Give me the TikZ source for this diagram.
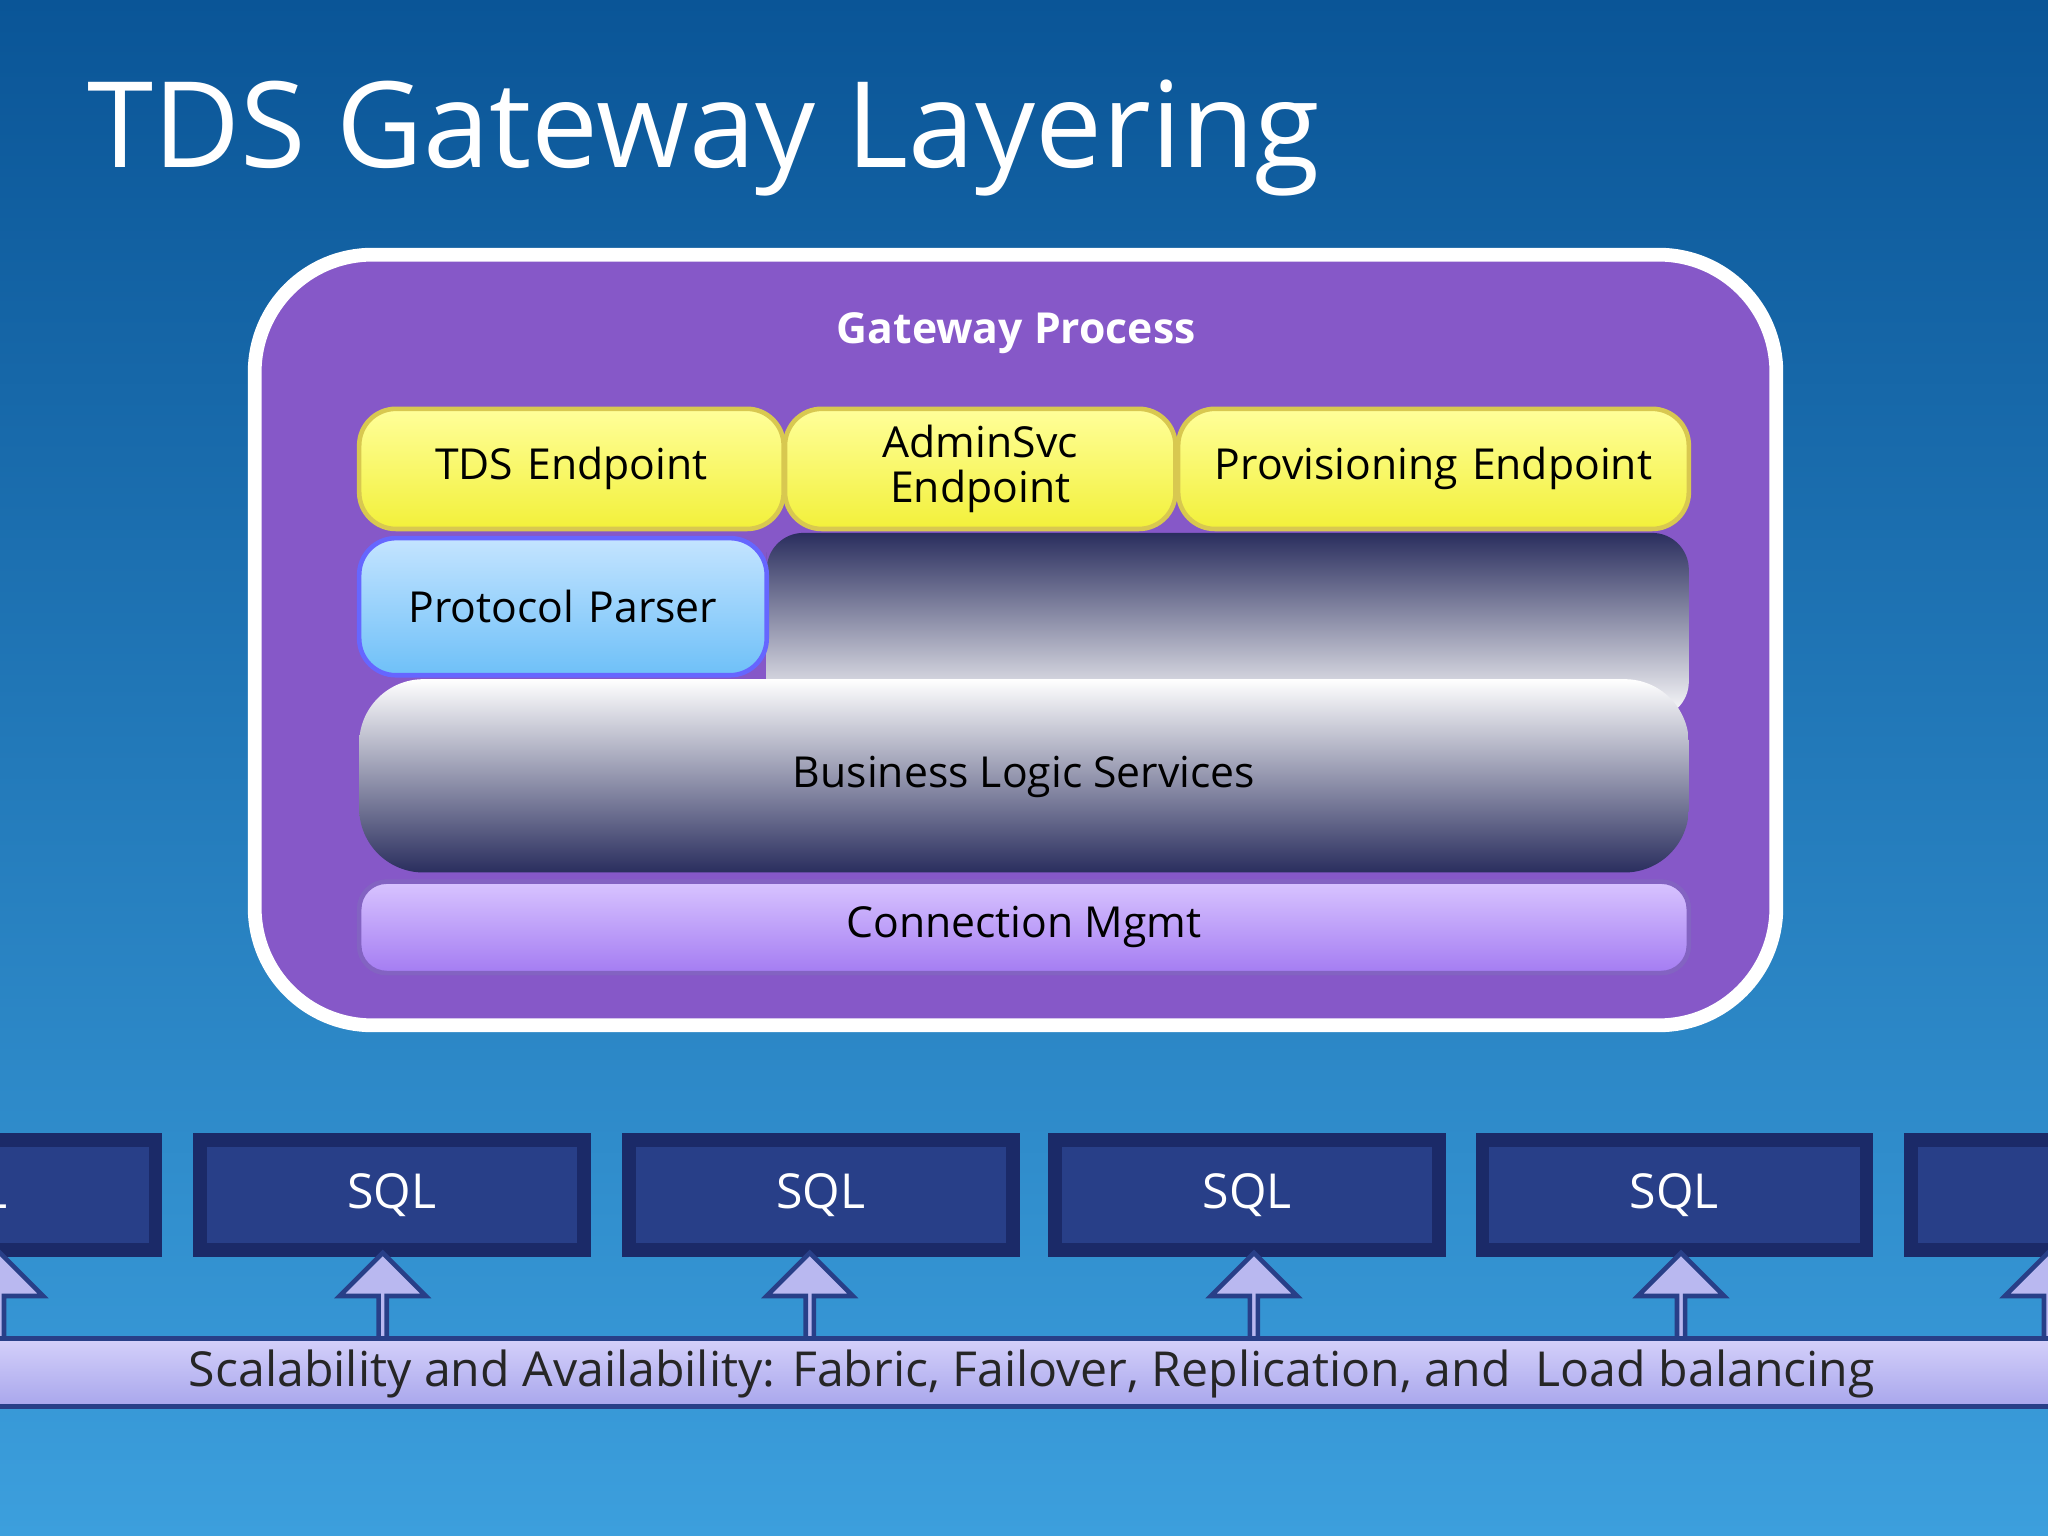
\documentclass[tikz,border=0pt]{standalone}
\usepackage{fontspec}
\setmainfont{Open Sans}
\usetikzlibrary{shapes.arrows}
\definecolor{bgtop}{HTML}{0A5597}
\definecolor{bgbot}{HTML}{3C9FDD}
\definecolor{purp}{HTML}{8658C8}
\definecolor{navy}{HTML}{283F88}
\definecolor{navyb}{HTML}{1B2A68}
\definecolor{dark}{HTML}{2A2E5E}
\definecolor{yt}{HTML}{FFFF9A}
\definecolor{yb}{HTML}{F2F03A}
\definecolor{yd}{HTML}{D8C850}
\definecolor{lt}{HTML}{D8C4FF}
\definecolor{lb}{HTML}{A47CF2}
\definecolor{bt}{HTML}{C4E4FF}
\definecolor{bb}{HTML}{6EC0F8}
\definecolor{bart}{HTML}{D4D0FA}
\definecolor{barb}{HTML}{A8A6EC}
\tikzset{
  yel/.style={draw=yd,line width=1pt,rounded corners=8pt,top color=yt,bottom color=yb,font=\fontsize{9.3}{11}\selectfont,align=center,inner sep=1pt},
  sql/.style={draw=navyb,line width=3pt,fill=navy,text=white,font=\fontsize{10.5}{12}\selectfont},
  up/.style={single arrow,shape border rotate=90,draw=navy,line width=1pt,fill=barb!80!white,minimum width=0.66cm,single arrow head extend=0.17cm,single arrow tip angle=90,minimum height=0.66cm,inner sep=0pt}
}
\begin{document}
\begin{tikzpicture}[x=1cm,y=1cm]
\shade[top color=bgtop,bottom color=bgbot] (0,0) rectangle (15.68,-11.76);
\useasboundingbox (0,0) rectangle (15.68,-11.76);
\node[anchor=base west,text=white,font=\fontsize{26}{30}\selectfont,inner sep=0] (title) at (0.66,-1.28) {TDS Gateway Layering};
% outer
\draw[white,line width=3pt,fill=purp,rounded corners=0.9cm] (1.95,-1.95) rectangle (13.6,-7.85);
\node[text=white,font=\bfseries\fontsize{9.3}{11}\selectfont] (gp) at (7.78,-2.55) {Gateway Process};
% yellow
\node[yel,minimum width=3.25cm,minimum height=0.92cm,text width=3.1cm] (tds) at (4.375,-3.59) {TDS Endpoint};
\node[yel,minimum width=2.99cm,minimum height=0.92cm,text width=2.9cm] (adm) at (7.505,-3.59) {AdminSvc\\[-1pt]Endpoint};
\node[yel,minimum width=3.91cm,minimum height=0.92cm,text width=3.8cm] (prov) at (10.975,-3.59) {Provisioning Endpoint};
% gradient band
\shade[top color=dark,bottom color=white] (5.87,-5.5) -- (5.87,-4.23) [rounded corners=8pt] -- (5.87,-4.08) -- (12.93,-4.08) -- (12.93,-5.5) -- cycle;
\shade[top color=white,bottom color=dark,rounded corners=14pt] (2.75,-5.2) rectangle (12.93,-6.68);
\node[font=\fontsize{9.3}{11}\selectfont] (bls) at (7.84,-5.95) {Business Logic Services};
\node[draw=blue!60,line width=1pt,rounded corners=8pt,top color=bt,bottom color=bb,minimum width=3.12cm,minimum height=1.05cm,text width=3cm,align=center,inner sep=1pt,font=\fontsize{9.3}{11}\selectfont] (pp) at (4.31,-4.645) {Protocol Parser};
\node[draw=lb!80!black,line width=1pt,rounded corners=6pt,top color=lt,bottom color=lb,minimum width=10.18cm,minimum height=0.7cm,font=\fontsize{9.3}{11}\selectfont] (cm) at (7.84,-7.1) {Connection Mgmt};
% SQL
\node[sql,minimum width=2.94cm,minimum height=0.84cm] (s0) at (-0.28,-9.15) {SQL};
\node[sql,minimum width=2.94cm,minimum height=0.84cm] (s1) at (3.0,-9.15) {SQL};
\node[sql,minimum width=2.94cm,minimum height=0.84cm] (s2) at (6.285,-9.15) {SQL};
\node[sql,minimum width=2.94cm,minimum height=0.84cm] (s3) at (9.55,-9.15) {SQL};
\node[sql,minimum width=2.94cm,minimum height=0.84cm] (s4) at (12.82,-9.15) {SQL};
\node[sql,minimum width=2.94cm,minimum height=0.84cm] (s5) at (16.1,-9.15) {};
% arrows
\foreach \n/\x in {a0/0.0,a1/2.93,a2/6.2,a3/9.6,a4/12.87,a5/15.68}
  \node[up,anchor=south] (\n) at (\x,-10.27) {};
% bottom bar
\node[draw=navy,line width=1pt,top color=bart,bottom color=barb,minimum width=16cm,minimum height=0.52cm,inner sep=0pt] (bar) at (7.84,-10.51) {};
\node[font=\fontsize{10.5}{12}\selectfont,text=black!85] (btx) at (7.9,-10.52) {Scalability and Availability: Fabric, Failover, Replication, and\ \ Load balancing};
\end{tikzpicture}
\end{document}
